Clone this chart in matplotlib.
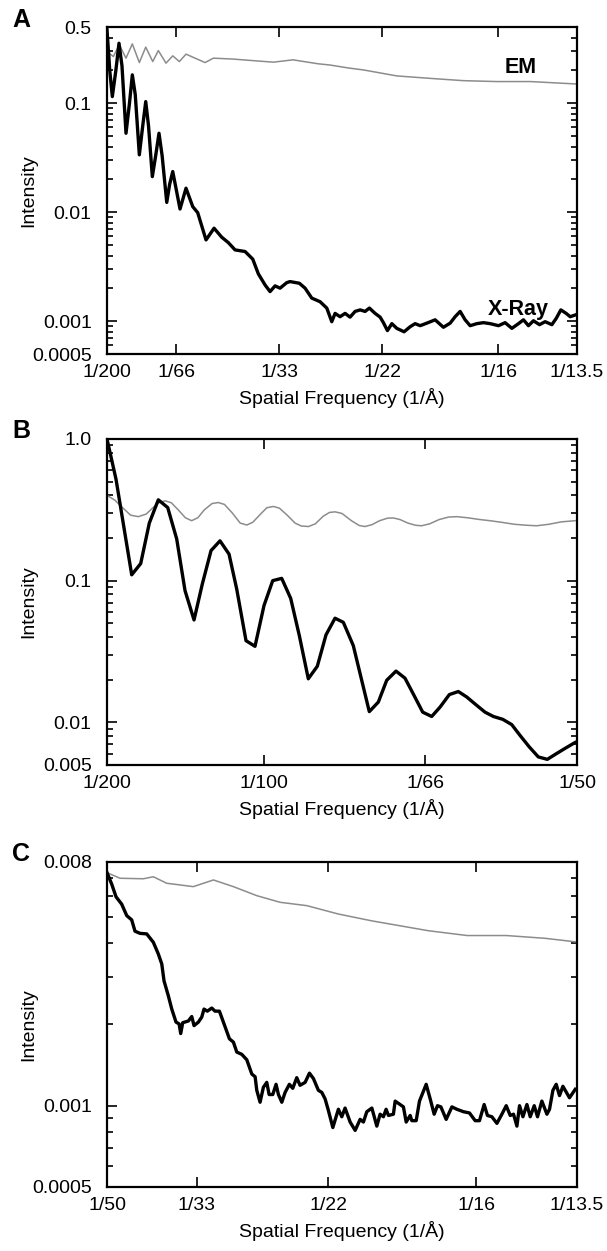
import matplotlib
matplotlib.use("Agg")
import matplotlib.pyplot as plt
import matplotlib.ticker as mticker
import numpy as np

plt.rcParams['font.family'] = ['Liberation Sans', 'DejaVu Sans']

# ---------------- Panel A: 1/200 .. 1/13.5 ----------------
a_xray_f = [0.00500, 0.00540, 0.00578, 0.00630, 0.00676, 0.00720, 0.00779, 0.00830, 0.00872, 0.00915,
            0.00975, 0.01025, 0.01069, 0.01110, 0.01166, 0.01215, 0.01264, 0.01310, 0.01378, 0.01420,
            0.01466, 0.01573, 0.01661, 0.01760, 0.01833, 0.01955, 0.02073, 0.02186, 0.02283, 0.02382,
            0.02529, 0.02642, 0.02724, 0.02823, 0.02896, 0.02970, 0.03043, 0.03142, 0.03190, 0.03327,
            0.03411, 0.03509, 0.03631, 0.03730, 0.03803, 0.03852, 0.03925, 0.03999, 0.04072, 0.04146,
            0.04220, 0.04293, 0.04356, 0.04440, 0.04514, 0.04562, 0.04621, 0.04686, 0.04759, 0.04866,
            0.04955, 0.05028, 0.05102, 0.05200, 0.05322, 0.05444, 0.05543, 0.05616, 0.05690, 0.05763,
            0.05837, 0.05935, 0.06032, 0.06131, 0.06253, 0.06351, 0.06450, 0.06547, 0.06620, 0.06694,
            0.06767, 0.06856, 0.06939, 0.07038, 0.07101, 0.07170, 0.07248, 0.07307, 0.07380]
a_xray_i = [0.47, 0.20, 0.115, 0.20, 0.355, 0.22, 0.053, 0.10, 0.182, 0.12,
            0.0336, 0.062, 0.1035, 0.062, 0.0212, 0.033, 0.053, 0.033, 0.0123, 0.018,
            0.0236, 0.0107, 0.0166, 0.01125, 0.0099, 0.00557, 0.00713, 0.0059, 0.00526, 0.00451,
            0.00436, 0.00371, 0.00272, 0.00215, 0.00187, 0.00211, 0.00201, 0.00226, 0.00231, 0.00223,
            0.00201, 0.00163, 0.00151, 0.00132, 0.00099, 0.00118, 0.00110, 0.00118, 0.00109, 0.00123,
            0.00127, 0.00123, 0.00132, 0.00118, 0.00109, 0.00097, 0.00082, 0.00095, 0.00086, 0.00080,
            0.00089, 0.00095, 0.00091, 0.00096, 0.00103, 0.00088, 0.00096, 0.00110, 0.00123, 0.00103,
            0.00091, 0.00095, 0.00097, 0.00095, 0.00091, 0.00097, 0.00086, 0.00095, 0.00103, 0.00091,
            0.00101, 0.00093, 0.00099, 0.00093, 0.00106, 0.00127, 0.00118, 0.00110, 0.00114]
a_em_f = [0.00500, 0.00593, 0.00681, 0.00779, 0.00872, 0.00975, 0.01069, 0.01172, 0.01254, 0.01367,
          0.01466, 0.01563, 0.01661, 0.01794, 0.01941, 0.02063, 0.02357, 0.02602, 0.02945, 0.03234,
          0.03602, 0.03778, 0.04058, 0.04268, 0.04759, 0.05249, 0.05738, 0.06229, 0.06719, 0.07405]
a_em_i = [0.297, 0.268, 0.343, 0.259, 0.35, 0.236, 0.327, 0.241, 0.304, 0.233,
          0.272, 0.241, 0.282, 0.259, 0.236, 0.259, 0.254, 0.247, 0.238, 0.25,
          0.23, 0.224, 0.21, 0.202, 0.178, 0.169, 0.161, 0.158, 0.158, 0.150]

# ---------------- Panel B: 1/200 .. 1/50 ----------------
b_xray_f = [0.00500, 0.005287, 0.005788, 0.006075, 0.00635, 0.006637, 0.006937, 0.007224, 0.00749, 0.007777,
            0.008042, 0.00832, 0.008606, 0.008894, 0.009139, 0.009436, 0.009723, 0.01001, 0.010288, 0.010575,
            0.010862, 0.011137, 0.011424, 0.011712, 0.01199, 0.012277, 0.012542, 0.01286, 0.013371, 0.013659,
            0.013926, 0.014223, 0.01451, 0.014798, 0.015075, 0.015363, 0.015628, 0.015925, 0.016212, 0.01648,
            0.016777, 0.017064, 0.01733, 0.01763, 0.017916, 0.018181, 0.018478, 0.018765, 0.019052, 0.019352,
            0.019639, 0.019936]
b_xray_i = [1.0, 0.52, 0.110, 0.132, 0.255, 0.372, 0.328, 0.197, 0.085, 0.0528,
            0.0948, 0.163, 0.191, 0.154, 0.0874, 0.0377, 0.0344, 0.0667, 0.100, 0.1038,
            0.075, 0.041, 0.0203, 0.0249, 0.0415, 0.0543, 0.0508, 0.0348, 0.0119, 0.0139,
            0.0198, 0.0230, 0.0205, 0.0155, 0.0118, 0.0110, 0.0128, 0.0157, 0.0165, 0.0151,
            0.0133, 0.0118, 0.0110, 0.0105, 0.00964, 0.00809, 0.0067, 0.0057, 0.00548, 0.00603,
            0.00659, 0.0072]
b_em_f = [0.00500, 0.00525, 0.00545, 0.00575, 0.00600, 0.00625, 0.00645, 0.00665, 0.00685, 0.00705,
          0.00725, 0.00750, 0.00770, 0.00790, 0.00810, 0.00835, 0.00855, 0.00875, 0.00900, 0.00925,
          0.00946, 0.00965, 0.00990, 0.01010, 0.01031, 0.01050, 0.01075, 0.01100, 0.01120, 0.01143,
          0.01165, 0.01190, 0.01210, 0.01228, 0.01250, 0.01280, 0.01305, 0.01323, 0.01345, 0.01370,
          0.01395, 0.01414, 0.01435, 0.01460, 0.01485, 0.01504, 0.01530, 0.01560, 0.01590, 0.01616,
          0.01650, 0.01690, 0.01722, 0.01760, 0.01800, 0.01840, 0.01871, 0.01910, 0.01950, 0.01994]
b_em_i = [0.40, 0.37, 0.335, 0.29, 0.283, 0.295, 0.325, 0.355, 0.366, 0.355,
          0.32, 0.278, 0.265, 0.278, 0.315, 0.35, 0.356, 0.345, 0.30, 0.255,
          0.247, 0.258, 0.295, 0.327, 0.334, 0.325, 0.29, 0.255, 0.243, 0.241,
          0.252, 0.285, 0.303, 0.306, 0.298, 0.265, 0.245, 0.241, 0.248, 0.265,
          0.276, 0.277, 0.27, 0.255, 0.246, 0.244, 0.252, 0.27, 0.281, 0.283,
          0.278, 0.27, 0.265, 0.258, 0.25, 0.246, 0.244, 0.25, 0.26, 0.265]

# ---------------- Panel C: 1/50 .. 1/13.5 ----------------
c_xray_f = [0.02000, 0.02054, 0.02104, 0.02169, 0.02227, 0.02284, 0.02322, 0.02380, 0.02457, 0.02533,
            0.02590, 0.02630, 0.02656, 0.02706, 0.02745, 0.02794, 0.02829, 0.02848, 0.02871, 0.02936,
            0.02975, 0.03001, 0.03051, 0.03090, 0.03116, 0.03154, 0.03205, 0.03243, 0.03293, 0.03339,
            0.03408, 0.03454, 0.03493, 0.03550, 0.03608, 0.03666, 0.03704, 0.03723, 0.03761, 0.03799,
            0.03838, 0.03865, 0.03907, 0.03945, 0.03972, 0.04011, 0.04049, 0.04098, 0.04137, 0.04183,
            0.04221, 0.04279, 0.04329, 0.04375, 0.04432, 0.04471, 0.04509, 0.04547, 0.04598, 0.04662,
            0.04701, 0.04739, 0.04797, 0.04855, 0.04912, 0.04950, 0.04989, 0.05047, 0.05104, 0.05142,
            0.05180, 0.05211, 0.05238, 0.05295, 0.05315, 0.05372, 0.05410, 0.05442, 0.05488, 0.05507,
            0.05557, 0.05595, 0.05672, 0.05718, 0.05764, 0.05802, 0.05841, 0.05902, 0.05968, 0.06025,
            0.06101, 0.06170, 0.06236, 0.06285, 0.06339, 0.06377, 0.06428, 0.06486, 0.06543, 0.06593,
            0.06639, 0.06677, 0.06716, 0.06746, 0.06785, 0.06831, 0.06869, 0.06915, 0.06953, 0.07003,
            0.07061, 0.07091, 0.07130, 0.07168, 0.07206, 0.07245, 0.07321, 0.07387]
c_xray_i = [0.0073, 0.00662, 0.00594, 0.00558, 0.00506, 0.00488, 0.00443, 0.00435, 0.00433, 0.00403,
            0.00365, 0.00335, 0.0029, 0.00255, 0.00228, 0.00204, 0.00201, 0.00185, 0.00203, 0.00206,
            0.00214, 0.00198, 0.00204, 0.00213, 0.00228, 0.00224, 0.0023, 0.00224, 0.00224, 0.00204,
            0.00177, 0.00172, 0.00158, 0.00155, 0.00148, 0.00131, 0.00128, 0.00114, 0.00103, 0.00117,
            0.00122, 0.0011, 0.0011, 0.0012, 0.0011, 0.00103, 0.00112, 0.0012, 0.00116, 0.00127,
            0.00119, 0.00122, 0.00132, 0.00126, 0.00114, 0.00112, 0.00106, 0.00096, 0.00083, 0.00097,
            0.00091, 0.00098, 0.00087, 0.00081, 0.00089, 0.00087, 0.00095, 0.00098, 0.00084, 0.00093,
            0.00091, 0.00097, 0.00092, 0.00093, 0.00104, 0.00101, 0.00099, 0.00087, 0.00092, 0.00088,
            0.00088, 0.00104, 0.0012, 0.00106, 0.00093, 0.0010, 0.00099, 0.00089, 0.00099, 0.00097,
            0.00095, 0.00094, 0.00088, 0.00088, 0.00101, 0.00092, 0.00091, 0.00086, 0.00093, 0.0010,
            0.00092, 0.00093, 0.00084, 0.0010, 0.00091, 0.00101, 0.00091, 0.0010, 0.00091, 0.00104,
            0.00093, 0.00097, 0.00114, 0.0012, 0.00109, 0.00118, 0.00107, 0.00115]
c_em_f = [0.02000, 0.02150, 0.02418, 0.02533, 0.02687, 0.02993, 0.03224, 0.03454, 0.03723, 0.03991,
          0.04299, 0.04662, 0.05046, 0.05695, 0.06144, 0.06593, 0.07041, 0.07407]
c_em_i = [0.0073, 0.00696, 0.00693, 0.00705, 0.00667, 0.00648, 0.00686, 0.00648, 0.0060, 0.00567,
          0.00551, 0.00513, 0.00484, 0.00445, 0.00427, 0.00427, 0.00417, 0.00404]

# tick labels (resolution in Angstrom)
a_xticks = ['200', '66', '33', '22', '16', '13.5']
b_xticks = ['200', '100', '66', '50']
c_xticks = ['50', '33', '22', '16', '13.5']
a_yticks = [0.5, 0.1, 0.01, 0.001, 0.0005]
b_yticks = [1.0, 0.1, 0.01, 0.005]
c_yticks = [0.008, 0.001, 0.0005]
a_ylabels = ['0.5', '0.1', '0.01', '0.001', '0.0005']
b_ylabels = ['1.0', '0.1', '0.01', '0.005']
c_ylabels = ['0.008', '0.001', '0.0005']

fig = plt.figure(figsize=(6.07, 12.51), dpi=100)
FS = 14

def panel(rect, letter, xray_f, xray_i, em_f, em_i, xt, yt, yl):
    ax = fig.add_axes(rect)
    ax.plot(em_f, em_i, color='0.55', lw=1.1)
    ax.plot(xray_f, xray_i, color='black', lw=2.4)
    ax.set_yscale('log')
    ax.set_xlim(1 / float(xt[0]), 1 / float(xt[-1]))
    ax.set_ylim(yt[-1], yt[0])
    ax.set_xticks([1 / float(d) for d in xt])
    ax.set_xticklabels(['1/' + d for d in xt])
    ax.yaxis.set_major_locator(mticker.FixedLocator(yt))
    ax.yaxis.set_major_formatter(mticker.FixedFormatter(yl))
    ax.yaxis.set_minor_locator(mticker.LogLocator(base=10, subs=np.arange(2, 10)))
    ax.yaxis.set_minor_formatter(mticker.NullFormatter())
    ax.tick_params(which='both', direction='in', top=True, right=True, labelsize=FS, width=1.2)
    ax.tick_params(which='major', length=7)
    ax.tick_params(which='minor', length=4)
    ax.tick_params(axis='x', pad=7)
    ax.tick_params(axis='y', pad=11)
    for s in ax.spines.values():
        s.set_linewidth(1.6)
    ax.set_xlabel('Spatial Frequency (1/Å)', fontsize=FS, labelpad=5)
    ax.set_ylabel('Intensity', fontsize=FS)
    ax.yaxis.set_label_coords(-0.148, 0.5)
    top = rect[1] + rect[3]
    fig.text(0.02, top + 0.006, letter, fontsize=18, fontweight='bold', va='center', ha='left')
    return ax

ax_a = panel([0.1763, 0.7170, 0.7743, 0.2614], 'A', a_xray_f, a_xray_i, a_em_f, a_em_i,
             a_xticks, a_yticks, a_ylabels)
ax_a.text(0.0658, 0.211, 'EM', fontsize=15.5, fontweight='bold', ha='center', va='center')
ax_a.text(0.0654, 0.00127, 'X-Ray', fontsize=15.5, fontweight='bold', ha='center', va='center')

ax_b = panel([0.1763, 0.3885, 0.7743, 0.2606], 'B', b_xray_f, b_xray_i, b_em_f, b_em_i,
             b_xticks, b_yticks, b_ylabels)
ax_c = panel([0.1763, 0.0512, 0.7743, 0.2598], 'C', c_xray_f, c_xray_i, c_em_f, c_em_i,
             c_xticks, c_yticks, c_ylabels)

fig.savefig('out.png', dpi=100)
